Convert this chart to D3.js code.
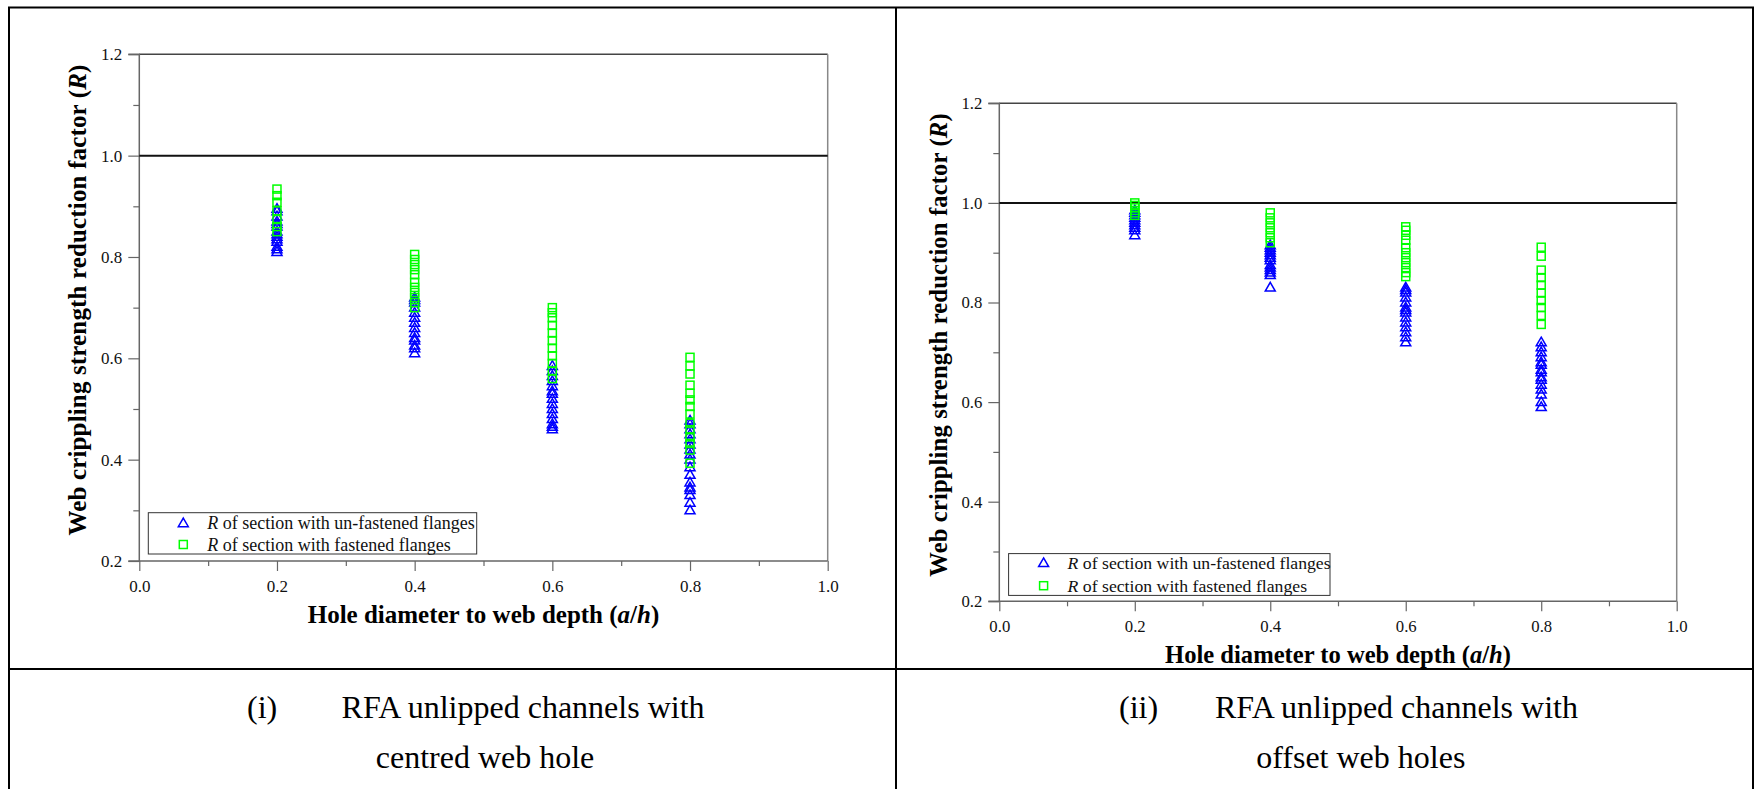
<!DOCTYPE html>
<html><head><meta charset="utf-8">
<script src="https://cdn.jsdelivr.net/npm/d3@7/dist/d3.min.js"></script>
<style>body{margin:0;background:#fff}svg{display:block}</style>
</head><body>
<svg id="c" width="1755" height="789"></svg>
<script>
// ---- data ----
const xCategories = [0.2, 0.4, 0.6, 0.8];
const yTicks = [0.2, 0.4, 0.6, 0.8, 1.0, 1.2];
const xTicks = [0.0, 0.2, 0.4, 0.6, 0.8, 1.0];
const seriesNames = ["R of section with un-fastened flanges", "R of section with fastened flanges"];

// (i) centred web hole
const centredUnfastened = [
  [0.895, 0.89, 0.88, 0.87, 0.865, 0.86, 0.85, 0.845, 0.84, 0.835, 0.83, 0.82, 0.815, 0.81],
  [0.72, 0.715, 0.71, 0.70, 0.69, 0.68, 0.67, 0.66, 0.65, 0.64, 0.635, 0.625, 0.62, 0.61],
  [0.585, 0.575, 0.565, 0.555, 0.545, 0.535, 0.53, 0.52, 0.51, 0.50, 0.49, 0.48, 0.47, 0.465, 0.46],
  [0.477, 0.47, 0.46, 0.45, 0.44, 0.43, 0.42, 0.41, 0.40, 0.385, 0.37, 0.355, 0.345, 0.34, 0.33, 0.315, 0.30]
];
const centredFastened = [
  [0.934, 0.921, 0.908, 0.891, 0.874, 0.86, 0.85],
  [0.805, 0.795, 0.785, 0.775, 0.765, 0.75, 0.74, 0.73, 0.72, 0.71, 0.70],
  [0.70, 0.69, 0.68, 0.665, 0.65, 0.635, 0.62, 0.605, 0.59, 0.575, 0.56],
  [0.602, 0.585, 0.569, 0.547, 0.531, 0.518, 0.505, 0.49, 0.472, 0.459, 0.445, 0.432, 0.419, 0.393]
];
// (ii) offset web holes
const offsetUnfastened = [
  [0.985, 0.98, 0.975, 0.97, 0.965, 0.96, 0.955, 0.95, 0.945, 0.935],
  [0.915, 0.91, 0.905, 0.90, 0.895, 0.89, 0.885, 0.875, 0.87, 0.865, 0.86, 0.855, 0.83],
  [0.83, 0.825, 0.82, 0.81, 0.80, 0.79, 0.785, 0.78, 0.77, 0.76, 0.75, 0.74, 0.73, 0.72],
  [0.72, 0.71, 0.70, 0.69, 0.68, 0.675, 0.665, 0.66, 0.65, 0.645, 0.635, 0.625, 0.615, 0.60, 0.59]
];
const offsetFastened = [
  [1.0, 0.995, 0.99, 0.985, 0.98, 0.975],
  [0.98, 0.97, 0.96, 0.95, 0.94, 0.93, 0.92],
  [0.952, 0.945, 0.935, 0.925, 0.91, 0.90, 0.89, 0.88, 0.87, 0.86, 0.852],
  [0.911, 0.893, 0.865, 0.85, 0.835, 0.819, 0.804, 0.79, 0.774, 0.756]
];
const captionsLeft = ["(i)", "RFA unlipped channels with", "centred web hole"];
const captionsRight = ["(ii)", "RFA unlipped channels with", "offset web holes"];

// ---- drawing ----
const svg = d3.select("#c");
const SERIF = "'Liberation Serif','Times New Roman',serif";
const BLUE = "#0000ff", GREEN = "#00ff00";

// outer table borders
const border = svg.append("g").attr("stroke", "#000").attr("stroke-width", 2).attr("fill", "none");
border.append("line").attr("x1", 8).attr("x2", 1754).attr("y1", 7.5).attr("y2", 7.5);
border.append("line").attr("x1", 9).attr("x2", 9).attr("y1", 7).attr("y2", 789);
border.append("line").attr("x1", 1753).attr("x2", 1753).attr("y1", 7).attr("y2", 789);
border.append("line").attr("x1", 896).attr("x2", 896).attr("y1", 7).attr("y2", 789);
border.append("line").attr("x1", 8).attr("x2", 1754).attr("y1", 669).attr("y2", 669);

function triPath(s) { const h = s * 0.866; return `M0,${-h*0.6}L${s/2},${h*0.4}L${-s/2},${h*0.4}Z`; }

function drawPanel(o) {
  const x = d3.scaleLinear().domain([0, 1]).range([o.left, o.right]);
  const y = d3.scaleLinear().domain([0.2, 1.2]).range([o.bottom, o.top]);
  const k = o.k;
  const g = svg.append("g");
  const axisColor = "#666";

  // frame top/right
  g.append("line").attr("x1", o.left).attr("x2", o.right).attr("y1", o.top).attr("y2", o.top)
    .attr("stroke", "#444").attr("stroke-width", 1.5);
  g.append("line").attr("x1", o.right).attr("x2", o.right).attr("y1", o.top).attr("y2", o.bottom)
    .attr("stroke", "#888").attr("stroke-width", 1.5);

  // y axis
  const ya = g.append("g").attr("transform", `translate(${o.left},0)`)
    .call(d3.axisLeft(y).tickValues(yTicks).tickFormat(d3.format(".1f")).tickSize(11).tickPadding(6));
  const ym = g.append("g").attr("transform", `translate(${o.left},0)`)
    .call(d3.axisLeft(y).tickValues(d3.range(0.3, 1.2, 0.2)).tickFormat("").tickSize(6));
  // x axis
  const xa = g.append("g").attr("transform", `translate(0,${o.bottom})`)
    .call(d3.axisBottom(x).tickValues(xTicks).tickFormat(d3.format(".1f")).tickSize(10).tickPadding(9));
  const xm = g.append("g").attr("transform", `translate(0,${o.bottom})`)
    .call(d3.axisBottom(x).tickValues(d3.range(0.1, 1.0, 0.2)).tickFormat("").tickSize(5));
  [ya, ym, xa, xm].forEach(a => {
    a.select(".domain").attr("stroke", axisColor).attr("stroke-width", 1.5);
    a.selectAll(".tick line").attr("stroke", axisColor).attr("stroke-width", 1.2);
    a.selectAll("text").attr("font-family", SERIF).attr("font-size", 17 * k).attr("fill", "#111");
  });
  ya.select(".domain").attr("d", `M-11,${o.bottom}H0V${o.top}H-11`);
  xa.select(".domain").attr("d", `M${o.left},0H${o.right}`);
  ym.select(".domain").remove(); xm.select(".domain").remove();

  // R = 1.0 reference line
  g.append("line").attr("x1", x(0)).attr("x2", x(1)).attr("y1", y(1.0)).attr("y2", y(1.0))
    .attr("stroke", "#111").attr("stroke-width", 2);

  // points
  const tri = triPath(10);
  o.unfast.forEach((vals, i) => {
    g.append("g").selectAll("path").data(vals).join("path")
      .attr("d", tri).attr("transform", d => `translate(${x(xCategories[i])},${y(d)})`)
      .attr("fill", "none").attr("stroke", BLUE).attr("stroke-width", 1.5);
  });
  o.fast.forEach((vals, i) => {
    g.append("g").selectAll("rect").data(vals).join("rect")
      .attr("x", x(xCategories[i]) - 4).attr("y", d => y(d) - 4).attr("width", 8).attr("height", 8)
      .attr("fill", "none").attr("stroke", GREEN).attr("stroke-width", 1.5);
  });

  // legend
  const L = o.legend;
  g.append("rect").attr("x", L.x).attr("y", L.y).attr("width", L.w).attr("height", L.h)
    .attr("fill", "none").attr("stroke", "#333").attr("stroke-width", 1);
  const rows = [{mark: "tri", name: seriesNames[0]}, {mark: "sq", name: seriesNames[1]}];
  rows.forEach((r, i) => {
    const cy = L.y + L.r0 + i * L.dr;
    const mx = L.x + 35;
    if (r.mark === "tri") g.append("path").attr("d", tri).attr("transform", `translate(${mx},${cy})`)
      .attr("fill", "none").attr("stroke", BLUE).attr("stroke-width", 1.5);
    else g.append("rect").attr("x", mx - 4).attr("y", cy - 4).attr("width", 8).attr("height", 8)
      .attr("fill", "none").attr("stroke", GREEN).attr("stroke-width", 1.5);
    const t = g.append("text").attr("x", L.x + 59).attr("y", cy + 6).attr("font-family", SERIF)
      .attr("font-size", 18 * k).attr("fill", "#111");
    t.append("tspan").attr("font-style", "italic").text("R");
    t.append("tspan").text(r.name.slice(1));
  });

  // axis titles
  const xt = g.append("text").attr("x", (o.left + o.right) / 2).attr("y", o.xTitleY)
    .attr("text-anchor", "middle").attr("font-family", SERIF).attr("font-weight", "bold")
    .attr("font-size", 25 * k).attr("fill", "#000");
  xt.append("tspan").text("Hole diameter to web depth (");
  xt.append("tspan").attr("font-style", "italic").text("a");
  xt.append("tspan").text("/");
  xt.append("tspan").attr("font-style", "italic").text("h");
  xt.append("tspan").text(")");

  const yt = g.append("text").attr("transform", `translate(${o.yTitleX},${o.yTitleCY}) rotate(-90)`)
    .attr("text-anchor", "middle").attr("font-family", SERIF).attr("font-weight", "bold")
    .attr("font-size", 25 * k).attr("letter-spacing", 0.15).attr("fill", "#000");
  yt.append("tspan").text("Web crippling strength reduction factor (");
  yt.append("tspan").attr("font-style", "italic").text("R");
  yt.append("tspan").text(")");

  // captions
  const c = o.caption;
  const cap = svg.append("g").attr("font-family", SERIF).attr("font-size", 32).attr("fill", "#000");
  cap.append("text").attr("x", c.numX).attr("y", 718).text(c.text[0]);
  cap.append("text").attr("x", c.line1X).attr("y", 718).text(c.text[1]);
  cap.append("text").attr("x", c.line2CX).attr("y", 768).attr("text-anchor", "middle").text(c.text[2]);
}

drawPanel({
  left: 139.3, right: 827.7, top: 54.3, bottom: 561, k: 1,
  unfast: centredUnfastened, fast: centredFastened,
  legend: {x: 148.3, y: 512.7, w: 328.4, h: 41.3, r0: 10.5, dr: 21.3},
  xTitleY: 622.5, yTitleX: 86, yTitleCY: 300,
  caption: {numX: 247, line1X: 341.6, line2CX: 485, text: captionsLeft}
});
drawPanel({
  left: 999.3, right: 1676.7, top: 103.3, bottom: 601.3, k: 0.984,
  unfast: offsetUnfastened, fast: offsetFastened,
  legend: {x: 1008.6, y: 553.6, w: 321.4, h: 41.8, r0: 9.5, dr: 22.6},
  xTitleY: 662.5, yTitleX: 946.5, yTitleCY: 345,
  caption: {numX: 1119, line1X: 1215, line2CX: 1360.8, text: captionsRight}
});
</script>
</body></html>
